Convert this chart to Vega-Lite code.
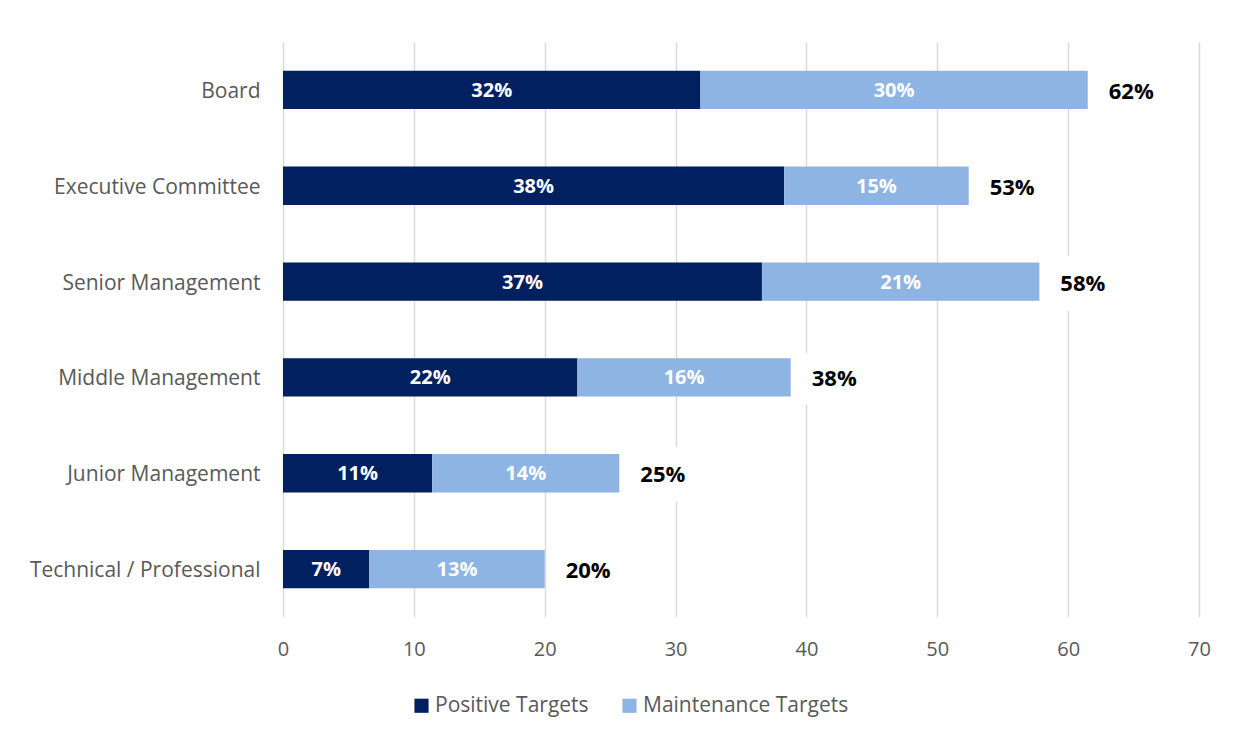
{
  "$schema": "https://vega.github.io/schema/vega-lite/v6.json",
  "autosize": "none",
  "width": 916,
  "height": 575,
  "padding": {"left": 283, "top": 42, "right": 37, "bottom": 117},
  "background": "white",
  "config": {
    "view": {"stroke": null},
    "font": "Open Sans"
  },
  "datasets": {
    "segments": [
      {"category": "Board", "series": "Positive Targets", "ord": 1, "value": 31.9, "label": "32%"},
      {"category": "Board", "series": "Maintenance Targets", "ord": 2, "value": 29.6, "label": "30%"},
      {"category": "Executive Committee", "series": "Positive Targets", "ord": 1, "value": 38.3, "label": "38%"},
      {"category": "Executive Committee", "series": "Maintenance Targets", "ord": 2, "value": 14.1, "label": "15%"},
      {"category": "Senior Management", "series": "Positive Targets", "ord": 1, "value": 36.6, "label": "37%"},
      {"category": "Senior Management", "series": "Maintenance Targets", "ord": 2, "value": 21.2, "label": "21%"},
      {"category": "Middle Management", "series": "Positive Targets", "ord": 1, "value": 22.5, "label": "22%"},
      {"category": "Middle Management", "series": "Maintenance Targets", "ord": 2, "value": 16.3, "label": "16%"},
      {"category": "Junior Management", "series": "Positive Targets", "ord": 1, "value": 11.4, "label": "11%"},
      {"category": "Junior Management", "series": "Maintenance Targets", "ord": 2, "value": 14.3, "label": "14%"},
      {"category": "Technical / Professional", "series": "Positive Targets", "ord": 1, "value": 6.6, "label": "7%"},
      {"category": "Technical / Professional", "series": "Maintenance Targets", "ord": 2, "value": 13.4, "label": "13%"}
    ],
    "totals": [
      {"category": "Board", "total": 61.5, "label": "62%"},
      {"category": "Executive Committee", "total": 52.4, "label": "53%"},
      {"category": "Senior Management", "total": 57.8, "label": "58%"},
      {"category": "Middle Management", "total": 38.8, "label": "38%"},
      {"category": "Junior Management", "total": 25.7, "label": "25%"},
      {"category": "Technical / Professional", "total": 20.0, "label": "20%"}
    ]
  },
  "encoding": {
    "y": {
      "field": "category",
      "type": "nominal",
      "sort": ["Board", "Executive Committee", "Senior Management", "Middle Management", "Junior Management", "Technical / Professional"],
      "scale": {"paddingInner": 0.6, "paddingOuter": 0.3},
      "axis": {
        "title": null,
        "domain": false,
        "ticks": false,
        "grid": false,
        "labelPadding": 23,
        "labelFontSize": 21,
        "labelLimit": 400,
        "labelOffset": 2,
        "labelColor": "#595959",
        "labelFont": "Open Sans"
      }
    }
  },
  "layer": [
    {
      "data": {"name": "totals"},
      "mark": {"type": "text", "align": "left", "baseline": "middle", "dx": 21, "dy": 2, "fontSize": 22, "fontWeight": "bold", "fill": "white", "stroke": "white", "strokeWidth": 40, "strokeJoin": "round"},
      "encoding": {
        "x": {"field": "total", "type": "quantitative", "scale": {"domain": [0, 70], "nice": false}},
        "text": {"field": "label"}
      }
    },
    {
      "data": {"name": "segments"},
      "mark": {"type": "bar"},
      "encoding": {
        "x": {
          "field": "value",
          "type": "quantitative",
          "stack": "zero",
          "scale": {"domain": [0, 70], "nice": false},
          "axis": {
            "title": null,
            "values": [0, 10, 20, 30, 40, 50, 60, 70],
            "domain": false,
            "ticks": false,
            "grid": true,
            "gridColor": "#d9d9d9",
            "gridWidth": 1.5,
            "labelFlush": false,
            "labelPadding": 22,
            "labelFontSize": 20,
            "labelColor": "#595959",
            "labelFont": "Open Sans"
          }
        },
        "color": {
          "field": "series",
          "type": "nominal",
          "scale": {"domain": ["Positive Targets", "Maintenance Targets"], "range": ["#002060", "#8EB4E3"]},
          "legend": {
            "title": null,
            "orient": "none",
            "legendX": 128,
            "legendY": 653,
            "direction": "horizontal",
            "symbolType": "square",
            "symbolSize": 200,
            "symbolStrokeWidth": 0,
            "labelFontSize": 21,
            "labelLimit": 400,
            "labelColor": "#595959",
            "labelFont": "Open Sans",
            "labelOffset": 3,
            "columnPadding": 30
          }
        },
        "order": {"field": "ord", "type": "quantitative"}
      }
    },
    {
      "data": {"name": "segments"},
      "mark": {"type": "text", "align": "center", "baseline": "middle", "dy": 1, "fontSize": 20, "fontWeight": "bold", "color": "white"},
      "encoding": {
        "x": {"field": "value", "type": "quantitative", "stack": "zero", "bandPosition": 0.5},
        "detail": {"field": "series", "type": "nominal"},
        "order": {"field": "ord", "type": "quantitative"},
        "text": {"field": "label"}
      }
    },
    {
      "data": {"name": "totals"},
      "mark": {"type": "text", "align": "left", "baseline": "middle", "dx": 21, "dy": 2, "fontSize": 22, "fontWeight": "bold", "color": "black"},
      "encoding": {
        "x": {"field": "total", "type": "quantitative"},
        "text": {"field": "label"}
      }
    }
  ]
}
